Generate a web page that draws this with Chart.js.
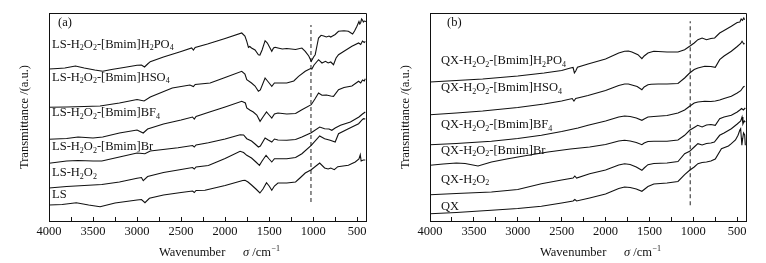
<!DOCTYPE html>
<html>
<head>
<meta charset="utf-8">
<script src="https://cdn.jsdelivr.net/npm/chart.js@4/dist/chart.umd.min.js"></script>
<style>
  html, body { margin: 0; padding: 0; background: #fff; }
  #wrap { position: relative; width: 766px; height: 263px; }
  canvas { position: absolute; top: 0; }
</style>
</head>
<body>
<div id="wrap">
  <canvas id="chart-a" width="383" height="263" style="left:0"></canvas>
  <canvas id="chart-b" width="383" height="263" style="left:383px"></canvas>
</div>
<script>
// wavenumber axis (cm-1), drawn high -> low
const X_TICKS   = [4000, 3750, 3500, 3250, 3000, 2750, 2500, 2250, 2000, 1750, 1500, 1250, 1000, 750, 500]
const X_LABELED = [4000, 3500, 3000, 2500, 2000, 1500, 1000, 500]

// (a) lignosulfonate spectra, [wavenumber, transmittance a.u.]
const A_H2PO4 = [[4000,152],[3900,152.5],[3820,153],[3700,155],[3600,153],[3480,151],[3390,149.7],[3290,151.5],[3150,153.5],[3050,155],[3000,155.7],[2950,156],[2915,154],[2880,157],[2850,159.3],[2700,164],[2500,169.5],[2380,173],[2360,171],[2340,173.5],[2200,177],[2000,182.5],[1811,188],[1775,185],[1754,179.7],[1735,173.7],[1720,174.5],[1700,173],[1660,171],[1622,166.3],[1605,166],[1580,171],[1546,180.3],[1520,178],[1490,173],[1470,169.7],[1450,173],[1432,173.7],[1400,173],[1350,172],[1300,172.5],[1200,171.5],[1128,173],[1090,169.7],[1050,165],[1022,159.7],[995,164],[977,166.3],[955,176],[939,183],[910,185.7],[880,185],[850,184],[820,185],[800,184],[780,185],[750,186.5],[712,189.7],[650,190.3],[600,189.7],[570,188],[552,187],[530,190],[503,194.7],[480,199.5],[470,197],[460,198.5],[450,202],[440,201],[430,199],[420,200],[400,199.5]]
const A_HSO4  = [[4000,113.7],[3800,114],[3600,114.5],[3420,115],[3200,118],[3000,121.5],[2920,120],[2850,124],[2600,133],[2400,136],[2360,134.5],[2340,136.5],[2170,138],[2000,143.5],[1811,149.7],[1775,147],[1754,141.3],[1700,138],[1660,135],[1622,129.7],[1600,131],[1546,143],[1500,138],[1470,134.7],[1440,138],[1400,138],[1300,138],[1220,140],[1166,144.7],[1090,149.7],[1030,152.5],[1015,152],[990,156],[939,161.3],[900,158],[860,159.7],[830,158],[800,159],[769,156.3],[740,163],[712,166.3],[650,169.7],[560,174.7],[484,178],[460,176.5],[440,180],[420,178.5],[408,179.7]]
const A_BF4   = [[4000,81.7],[3800,82.5],[3670,84],[3500,83],[3390,84],[3200,88],[3000,91],[2930,88],[2880,92],[2700,97],[2500,101],[2370,104],[2350,102],[2330,104.5],[2194,108.5],[2000,114],[1811,119.7],[1770,118],[1754,113],[1720,111],[1680,109],[1640,106],[1603,99.7],[1570,104],[1530,109],[1500,106],[1470,103],[1440,107],[1400,108],[1300,107],[1200,107.5],[1128,111.3],[1022,116.3],[980,122],[939,128],[900,125.7],[850,126],[800,125],[769,124.7],[712,131.3],[650,133.5],[560,135],[484,139.7],[460,138],[440,141],[420,140],[408,142.3]]
const A_BR    = [[4000,57.7],[3800,60],[3670,60.5],[3500,60],[3400,60],[3200,64],[3000,68],[2911,67.3],[2850,70],[2535,73.3],[2370,75.5],[2350,74],[2330,76],[2190,78.3],[2000,82],[1830,86.3],[1790,86],[1754,82.3],[1700,80],[1660,77],[1622,74],[1600,75],[1546,83],[1510,81],[1470,79],[1440,82],[1400,81],[1300,80.7],[1200,81.5],[1128,84],[1022,88.3],[926,94],[870,92.3],[820,92],[788,90.7],[750,93],[690,95.7],[577,99],[480,104],[440,107],[408,109]]
const A_H2O2  = [[4000,33],[3800,34.5],[3600,35.5],[3400,36.5],[3200,39],[3000,42.7],[2950,43.5],[2930,40.3],[2880,44.5],[2700,48.5],[2500,51.5],[2370,53.5],[2350,52],[2330,54],[2190,55.5],[2000,62.5],[1830,69.7],[1790,68.5],[1754,65.7],[1700,63],[1650,59],[1610,55.7],[1580,60],[1535,65.7],[1500,62],[1470,59],[1440,62.3],[1400,62.3],[1300,62.3],[1200,63.5],[1128,67.3],[1022,75.7],[926,85],[870,82.3],[807,80.7],[750,79],[712,87.3],[600,92.3],[484,97.3],[440,101.5],[427,102.3],[408,102]]
const A_LS    = [[4000,16],[3850,16.5],[3690,18.3],[3550,16],[3420,14.3],[3250,18],[3000,21],[2950,21.5],[2910,18.3],[2860,22.7],[2700,26],[2500,28.5],[2370,30],[2350,28.5],[2330,30.5],[2229,30.7],[2000,35.5],[1800,40.5],[1774,40.7],[1740,39],[1700,36],[1650,32],[1605,28],[1570,32],[1530,38.3],[1500,35],[1470,30.7],[1440,35],[1400,38],[1300,38],[1200,39],[1150,43],[1090,48],[1022,51.3],[926,58],[870,53],[830,52],[800,53],[760,51.3],[720,54.3],[600,55.7],[522,59],[480,62],[465,66.3],[455,60],[430,61],[408,61]]

// (b) spectra
const B_H2PO4 = [[4000,139],[3700,140.5],[3400,142],[3000,145],[2700,148],[2500,150.5],[2400,153],[2370,153.5],[2355,148],[2340,150],[2320,153.7],[2200,157],[2000,162],[1850,168],[1783,169.7],[1740,170],[1700,169],[1631,166.3],[1586,162.3],[1560,165],[1517,168],[1480,169],[1450,169.7],[1400,169.5],[1300,169],[1175,169],[1099,171.3],[1042,174.7],[990,178],[948,181.3],[900,183],[850,181.3],[800,182.5],[757,183],[700,188],[650,190.5],[567,194.7],[500,198.5],[470,199],[455,202],[440,200.7],[425,203],[416,201.3]]
const B_HSO4  = [[4000,106.3],[3700,108],[3400,110],[3000,113.5],[2700,117],[2500,120],[2380,122.5],[2360,120],[2340,122.5],[2200,125.5],[2000,130.5],[1850,135.5],[1783,137],[1740,137],[1700,136],[1640,134.5],[1586,131.3],[1560,134],[1517,136.3],[1480,136.7],[1400,137],[1300,137],[1175,137.5],[1099,143],[1042,148],[990,151.5],[948,153],[870,154.7],[800,154.5],[750,153.7],[700,161.3],[650,165],[567,169.7],[500,174.5],[460,177.5],[445,179.7],[425,177],[416,177.7]]
const B_BF4   = [[4000,76.3],[3700,77.5],[3300,79.7],[3000,82.5],[2731,85.7],[2500,89.5],[2314,93],[2200,95.7],[2000,100],[1850,104],[1783,105],[1720,104.5],[1650,103],[1586,100.7],[1560,102],[1517,104],[1450,104.5],[1300,105.5],[1175,108],[1099,111],[1042,114.7],[990,118],[948,119],[870,119.7],[800,119.5],[750,120],[700,121],[650,122.5],[567,124.7],[500,128],[460,130.3],[430,134],[416,134.7]]
const B_BR    = [[4000,55.7],[3850,57],[3700,58],[3600,57.5],[3453,55],[3300,59],[3112,62.3],[2900,65.5],[2656,69],[2400,72],[2181,74],[2000,76.5],[1850,80],[1783,80.7],[1720,80],[1650,78.5],[1586,76.3],[1560,78],[1517,79.5],[1450,79.7],[1300,79.7],[1175,81],[1099,85.7],[1042,90.7],[990,93.5],[950,95.7],[900,94],[850,96],[800,96.5],[750,95.7],[700,102.3],[650,104],[567,105.7],[500,109],[470,111],[450,112.5],[430,111],[408,113]]
const B_H2O2  = [[4000,26.3],[3700,27.5],[3300,29],[3000,31.5],[2731,37.3],[2500,41],[2370,43],[2350,45],[2330,43],[2181,47.3],[2000,51],[1850,56],[1783,57.3],[1720,56.5],[1650,54],[1586,50.7],[1560,53],[1517,56.3],[1450,57.5],[1300,58],[1175,59.5],[1099,67.3],[1042,69.7],[990,74],[948,77.3],[900,76],[850,77.5],[800,78],[760,79],[700,85.7],[650,88],[567,92.3],[500,97],[460,100],[445,104],[435,97],[420,100],[408,99]]
const B_QX    = [[4000,7.3],[3700,8.5],[3301,10.7],[3000,12.5],[2731,14.7],[2500,18],[2370,20],[2350,21.5],[2330,20],[2181,23],[2000,27],[1850,32.5],[1783,34],[1720,33.5],[1650,32],[1586,29.7],[1560,31.5],[1517,34.5],[1450,37],[1300,38],[1175,39.5],[1099,46.3],[1042,50.7],[990,54],[948,57.3],[900,58.5],[850,59],[800,60],[750,62],[680,72.3],[600,75],[567,77.3],[520,81],[491,85.7],[470,91],[461,92.3],[453,83],[447,75.7],[440,81],[428,88],[415,86],[408,75.7]]

// curve names ("_x" = subscript x), top to bottom
const NAMES_A = ['LS-H_2O_2-[Bmim]H_2PO_4', 'LS-H_2O_2-[Bmim]HSO_4', 'LS-H_2O_2-[Bmim]BF_4', 'LS-H_2O_2-[Bmim]Br', 'LS-H_2O_2', 'LS']
const NAMES_B = ['QX-H_2O_2-[Bmim]H_2PO_4', 'QX-H_2O_2-[Bmim]HSO_4', 'QX-H_2O_2-[Bmim]BF_4', 'QX-H_2O_2-[Bmim]Br', 'QX-H_2O_2', 'QX']
const NAME_Y_A = [176.7, 143.7, 108.3, 74.3, 48.3, 26]
const NAME_Y_B = [160.3, 133, 96.3, 70.7, 41.5, 14]

const FONT = '"Liberation Serif", "Times New Roman", serif'
const INK  = '#111'

function drawRich(ctx, str, x, y, size) {
  let i = 0
  while (i < str.length) {
    if (str[i] === '_') {
      ctx.font = `${size * 0.64}px ${FONT}`
      ctx.fillText(str[i + 1], x, y + size * 0.3)
      x += ctx.measureText(str[i + 1]).width
      i += 2
    } else {
      let j = i
      while (j < str.length && str[j] !== '_') j++
      const run = str.slice(i, j)
      ctx.font = `${size}px ${FONT}`
      ctx.fillText(run, x, y)
      x += ctx.measureText(run).width
      i = j
    }
  }
}

function makePanel(id, series, names, nameY, tag, dashX, dashY, yWidth, padRight, titlePad, nameX) {
  const datasets = series.map(s => ({
    data: s.map(([x, y]) => ({ x, y })),
    borderColor: INK,
    borderWidth: 1.1,
    pointRadius: 0,
    fill: false,
  }))
  datasets.push({
    data: [{ x: dashX, y: dashY[0] }, { x: dashX, y: dashY[1] }],
    borderColor: '#555',
    borderWidth: 1.3,
    borderDash: [4, 3],
    pointRadius: 0,
  })

  const decor = {
    id: 'decor',
    afterDraw(chart) {
      const { ctx, chartArea: a, scales: { x, y } } = chart
      ctx.save()
      // frame top + right
      ctx.strokeStyle = INK
      ctx.lineWidth = 1
      ctx.beginPath()
      ctx.moveTo(Math.round(a.left), Math.round(a.top) + 0.5)
      ctx.lineTo(Math.round(a.right) + 0.5, Math.round(a.top) + 0.5)
      ctx.lineTo(Math.round(a.right) + 0.5, Math.round(a.bottom))
      ctx.stroke()

      ctx.fillStyle = INK
      ctx.textBaseline = 'middle'
      ctx.textAlign = 'left'
      names.forEach((n, i) => drawRich(ctx, n, x.getPixelForValue(nameX), y.getPixelForValue(nameY[i]), 12.5))
      ctx.font = `12.5px ${FONT}`
      ctx.fillText(tag, x.getPixelForValue(nameX) + 6, y.getPixelForValue(198))

      // x title: Wavenumber  σ /cm-1
      ctx.textBaseline = 'alphabetic'
      const bx = a.left + 110, by = 256
      ctx.font = `12.5px ${FONT}`
      ctx.fillText('Wavenumber', bx, by)
      ctx.font = `italic 12.5px ${FONT}`
      ctx.fillText('σ', bx + 84, by)
      const sw = ctx.measureText('σ').width
      ctx.font = `12.5px ${FONT}`
      ctx.fillText(' /cm', bx + 84 + sw, by)
      const cw = ctx.measureText(' /cm').width
      ctx.font = `8px ${FONT}`
      ctx.fillText('−1', bx + 84 + sw + cw + 0.5, by - 5)
      ctx.restore()
    },
  }

  new Chart(document.getElementById(id), {
    type: 'line',
    data: { datasets },
    plugins: [decor],
    options: {
      responsive: false,
      animation: false,
      layout: { padding: { top: 13, right: padRight, left: 0, bottom: 0 } },
      plugins: { legend: { display: false }, tooltip: { enabled: false } },
      elements: { line: { tension: 0 } },
      scales: {
        x: {
          type: 'linear',
          reverse: true,
          min: 400,
          max: 4000,
          afterFit: s => { s.height = 42 },
          afterBuildTicks: s => { s.ticks = X_TICKS.map(v => ({ value: v })) },
          ticks: {
            autoSkip: false,
            maxRotation: 0,
            padding: 7,
            color: INK,
            font: { family: FONT, size: 12.5 },
            callback: v => X_LABELED.includes(v) ? String(v) : '',
          },
          grid: { drawOnChartArea: false, drawTicks: true, tickLength: -4, tickColor: INK },
          border: { display: true, color: INK, width: 1 },
        },
        y: {
          min: 0,
          max: 208,
          afterFit: s => { s.width = yWidth },
          ticks: { display: false },
          grid: { display: false },
          border: { display: true, color: INK, width: 1 },
          title: {
            display: true,
            text: 'Transmittance /(a.u.)',
            color: INK,
            font: { family: FONT, size: 12.5 },
            padding: { top: titlePad, bottom: 0 },
          },
        },
      },
    },
  })
}

makePanel('chart-a', [A_H2PO4, A_HSO4, A_BF4, A_BR, A_H2O2, A_LS], NAMES_A, NAME_Y_A, '(a)',
  1025, [19, 196], 49, 17, 17.5, 3965)
makePanel('chart-b', [B_H2PO4, B_HSO4, B_BF4, B_BR, B_H2O2, B_QX], NAMES_B, NAME_Y_B, '(b)',
  1035, [15.7, 199.7], 47, 20, 15.5, 3875)
</script>
</body>
</html>
